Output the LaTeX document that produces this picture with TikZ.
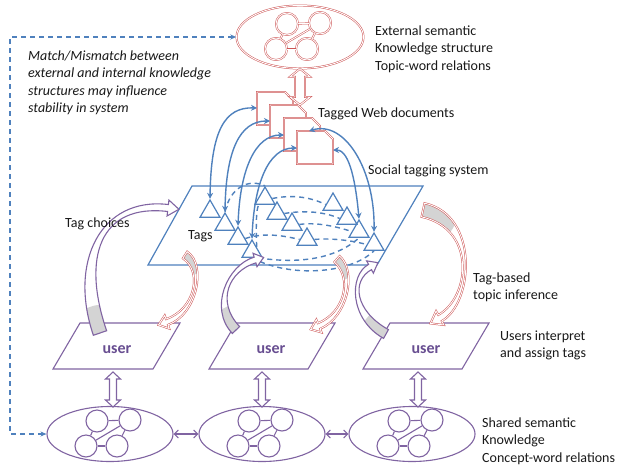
\documentclass[tikz,border=0pt]{standalone}
\usepackage{fontspec}
\setmainfont{Carlito}
\usetikzlibrary{calc,arrows.meta,shapes.geometric}
\definecolor{oblue}{RGB}{79,129,189}
\definecolor{ored}{RGB}{205,85,85}
\definecolor{opurple}{RGB}{128,100,162}
\definecolor{ouser}{RGB}{104,78,145}
\definecolor{ogrey}{RGB}{212,212,212}
\definecolor{otext}{RGB}{25,25,25}

\tikzset{
  redline/.style={draw=ored, double=white, double distance=0.9pt, line width=0.5pt},
  purpline/.style={draw=opurple, line width=1.1pt},
  bluebox/.style={draw=oblue, line width=1.2pt},
  tagtri/.style={regular polygon, regular polygon sides=3, draw=oblue, line width=1.2pt, minimum size=23pt, inner sep=0pt},
  bluearc/.style={draw=oblue, line width=1.4pt, arrows={Stealth[length=6pt,width=6pt]-Stealth[length=6pt,width=6pt]}},
  tagdash/.style={draw=oblue, line width=1.4pt, dash pattern=on 5pt off 4pt},
  linkdash/.style={draw=oblue, line width=1.3pt, dash pattern=on 5pt off 4pt, arrows={Stealth[length=6pt,width=5pt]-Stealth[length=6pt,width=5pt]}},
  gnode/.style={circle, minimum size=22pt, inner sep=0pt, fill=white},
  txt/.style={anchor=north west, inner sep=0pt, align=left, text=otext, font=\fontsize{14}{17.5}\selectfont},
  usertxt/.style={text=ouser, font=\fontsize{16}{18}\selectfont\bfseries, inner sep=0pt},
  pics/kgraph/.style={code={
    \node[gnode,#1] (-tl) at (-13,-13) {};
    \node[gnode,#1] (-tr) at (20,-14) {};
    \node[gnode,#1] (-bl) at (-24,12) {};
    \node[gnode,#1] (-br) at (7,12) {};
    \draw[#1] (-tl) -- (-tr);
    \draw[#1] (-bl) -- (-br);
    \draw[#1] (-tl) -- (-bl);
    \draw[#1] (-tr) -- (-br);
    \draw[#1] (-bl) -- (-tr);
  }},
}

% vertical hollow double-headed arrow: style, top coord, bottom coord, shaft half, head half, head length
\newcommand\vdarrow[6]{%
  \draw[#1, fill=white, line join=miter] (#2) -- ($(#2)+(#5,#6)$) -- ($(#2)+(#4,#6)$) -- ($(#3)+(#4,-#6)$) -- ($(#3)+(#5,-#6)$) -- (#3) -- ($(#3)+(-#5,-#6)$) -- ($(#3)+(-#4,-#6)$) -- ($(#2)+(-#4,#6)$) -- ($(#2)+(-#5,#6)$) -- cycle;}

% curved block arrow: style, P0, P1, P2, P3, tail half width, end half width, head half width, head length
\def\greyr{28pt}
\newcommand\blockarrow[9]{%
  \coordinate (ba0) at #2; \coordinate (ba1) at #3;
  \coordinate (ba2) at #4; \coordinate (ba3) at #5;
  \coordinate (bl0) at ($(ba0)!#6!90:(ba1)$);
  \coordinate (br0) at ($(ba0)!#6!-90:(ba1)$);
  \coordinate (bl3) at ($(ba3)!#7!-90:(ba2)$);
  \coordinate (br3) at ($(ba3)!#7!90:(ba2)$);
  \coordinate (bl1) at ($(bl0)+(ba1)-(ba0)$);
  \coordinate (br1) at ($(br0)+(ba1)-(ba0)$);
  \coordinate (bl2) at ($(bl3)+(ba2)-(ba3)$);
  \coordinate (br2) at ($(br3)+(ba2)-(ba3)$);
  \coordinate (bhl) at ($(ba3)!#8!-90:(ba2)$);
  \coordinate (bhr) at ($(ba3)!#8!90:(ba2)$);
  \coordinate (btip) at ($(ba3)!#9!180:(ba2)$);
  \fill[white] (bl0) .. controls (bl1) and (bl2) .. (bl3) -- (bhl) -- (btip) -- (bhr) -- (br3) .. controls (br2) and (br1) .. (br0) -- cycle;
  \begin{scope}
    \clip (ba0) circle[radius=\greyr];
    \fill[ogrey] (bl0) .. controls (bl1) and (bl2) .. (bl3) -- (br3) .. controls (br2) and (br1) .. (br0) -- cycle;
  \end{scope}
  \draw[#1, line join=miter] (bl0) .. controls (bl1) and (bl2) .. (bl3) -- (bhl) -- (btip) -- (bhr) -- (br3) .. controls (br2) and (br1) .. (br0) -- cycle;
}

% document page with cut corner
\newcommand\docpage[3]{%
  \draw[redline, fill=white] (#2,#3) -- ++(28,0) -- ++(8,8) -- ++(0,25) -- ++(-36,0) -- cycle;
  \coordinate (#1) at (#2,#3);}

\begin{document}
\begin{tikzpicture}[x=1pt,y=-1pt]
\useasboundingbox (0,0) rectangle (620,466);
\fill[white] (0,0) rectangle (620,466);

% ---------- social tagging plane ----------
\draw[bluebox] (192,186) -- (423,186) -- (377,265) -- (148,265) -- cycle;

% tags
\node[tagtri] (tA) at (210,211.5) {};
\node[tagtri] (tB) at (225,224.5) {};
\node[tagtri] (tC) at (238,238.5) {};
\node[tagtri] (tD) at (252,251.5) {};
\node[tagtri] (tE) at (265,198.5) {};
\node[tagtri] (tF) at (277,213.5) {};
\node[tagtri] (tG) at (292,224.5) {};
\node[tagtri] (tH) at (307,239.5) {};
\node[tagtri] (tI) at (333,204.5) {};
\node[tagtri] (tJ) at (347,218.5) {};
\node[tagtri] (tK) at (359,231.5) {};
\node[tagtri] (tL) at (374,244.5) {};

% dashed tag relations
\draw[tagdash] (tE.east) .. controls (295,194) and (312,198) .. (tI.west);
\draw[tagdash] (tF.east) .. controls (305,210) and (325,212) .. (tJ.west);
\draw[tagdash] (tG.east) .. controls (315,222) and (335,226) .. (tK.west);
\draw[tagdash] (tH.east) .. controls (330,238) and (350,240) .. (tL.west);
\draw[tagdash] (tC.east) .. controls (265,232) and (285,236) .. (tH.west);
\draw[tagdash] (tD.south east) .. controls (285,262) and (330,264) .. (tK.south);
\draw[tagdash] (tD.south) .. controls (290,278) and (350,274) .. (tL.south);
\draw[tagdash] (tB.north) .. controls (230,188) and (248,178) .. (tE.north);
\draw[tagdash] (tD.north east) .. controls (256,225) and (256,210) .. (tE.south west);

% ---------- documents ----------
\docpage{pg1}{257}{92}
\docpage{pg2}{270}{105}
\docpage{pg3}{284}{118}
\docpage{pg4}{297}{131}
\coordinate (p1w) at (257,108);
\coordinate (p2w) at (270,121);
\coordinate (p3w) at (284,135);
\coordinate (p4w) at (297,148);
\coordinate (p4n) at (309,131);
\coordinate (p4e) at (333,150);

% arcs between tags and documents
\draw[bluearc] (tA.north) .. controls (211,130) and (225,107) .. (p1w);
\draw[bluearc] (tB.north) .. controls (226,150) and (240,121) .. (p2w);
\draw[bluearc] (tC.north) .. controls (240,170) and (255,135) .. (p3w);
\draw[bluearc] (tD.north) .. controls (254,185) and (268,148) .. (p4w);
\draw[bluearc] (p4n) .. controls (345,120) and (375,170) .. (tL.north);
\draw[bluearc] (p4e) .. controls (350,150) and (356,185) .. (tK.north);

% ---------- external knowledge ----------
\node[ellipse, redline, fill=white, minimum width=127pt, minimum height=63pt, inner sep=0pt] (ext) at (300,37) {};
\pic (g0) at (300,37) {kgraph=redline};
\coordinate (dtip) at (300,105);
\vdarrow{redline}{ext.south}{dtip}{5}{10}{8}

% ---------- users ----------
\draw[purpline] (80,323) -- (180,323) -- (153,369) -- (53,369) -- cycle;
\draw[purpline] (236,323) -- (335,323) -- (308,369) -- (209,369) -- cycle;
\draw[purpline] (390,323) -- (489,323) -- (462,369) -- (363,369) -- cycle;
\node[usertxt] (user1) at (117,350) {user};
\node[usertxt] (user2) at (271,350) {user};
\node[usertxt] (user3) at (426,350) {user};

% ---------- shared knowledge ----------
\node[ellipse, purpline, minimum width=126pt, minimum height=55pt, inner sep=0pt] (e1) at (110,434) {};
\node[ellipse, purpline, minimum width=126pt, minimum height=55pt, inner sep=0pt] (e2) at (262,434) {};
\node[ellipse, purpline, minimum width=126pt, minimum height=55pt, inner sep=0pt] (e3) at (412,434) {};
\pic (g1) at (110,434) {kgraph=purpline};
\pic (g2) at (262,434) {kgraph=purpline};
\pic (g3) at (412,434) {kgraph=purpline};
\draw[purpline, arrows={Straight Barb[length=4pt,width=8pt]-Straight Barb[length=4pt,width=8pt]}] (e1.east) -- (e2.west);
\draw[purpline, arrows={Straight Barb[length=4pt,width=8pt]-Straight Barb[length=4pt,width=8pt]}] (e2.east) -- (e3.west);

\coordinate (a1t) at (113,372); \coordinate (a1b) at (113,407);
\coordinate (a2t) at (262,372); \coordinate (a2b) at (262,407);
\coordinate (a3t) at (418,372); \coordinate (a3b) at (418,407);
\vdarrow{purpline}{a1t}{a1b}{3.5}{7.5}{7}
\vdarrow{purpline}{a2t}{a2b}{3.5}{7.5}{7}
\vdarrow{purpline}{a3t}{a3b}{3.5}{7.5}{7}

% ---------- curved block arrows ----------
\def\greyr{28pt}
\blockarrow{purpline}{(100,333)}{(75,260)}{(100,200)}{(168,208)}{7pt}{3.5pt}{8pt}{11pt}
\def\greyr{22pt}
\blockarrow{redline}{(185,255)}{(205,268)}{(196,312)}{(167,322)}{4pt}{3pt}{7pt}{9pt}
\def\greyr{25pt}
\blockarrow{purpline}{(236,330)}{(212,305)}{(228,268)}{(255,260)}{5pt}{3pt}{7pt}{9pt}
\def\greyr{22pt}
\blockarrow{redline}{(337,259)}{(355,275)}{(346,315)}{(319,326)}{4pt}{3pt}{7pt}{9pt}
\def\greyr{25pt}
\blockarrow{purpline}{(386,334)}{(352,315)}{(350,278)}{(370,267)}{5pt}{3pt}{7pt}{9pt}
\def\greyr{35pt}
\blockarrow{redline}{(423,210)}{(478,222)}{(472,300)}{(440,318)}{7pt}{3.5pt}{8pt}{11pt}

% ---------- match/mismatch link ----------
\coordinate (lk1) at (10,37);
\coordinate (lk2) at (10,434);
\draw[linkdash] (ext.west) -- (lk1) -- (lk2) -- (e1.west);

% ---------- texts ----------
\node[txt] (t-ext) at (375,23) {\strut External semantic\\Knowledge structure\\Topic-word relations};
\node[txt] (t-doc) at (318,105) {\strut Tagged Web documents};
\node[txt] (t-sts) at (368,162) {\strut Social tagging system};
\node[txt] (t-tags) at (188,227) {\strut Tags};
\node[txt] (t-choice) at (65,215) {\strut Tag choices};
\node[txt] (t-infer) at (473,270) {\strut Tag-based\\topic inference};
\node[txt] (t-users) at (500,328) {\strut Users interpret\\and assign tags};
\node[txt] (t-shared) at (482,415) {\strut Shared semantic\\Knowledge\\Concept-word relations};
\node[txt, font=\fontsize{14}{17.5}\selectfont\itshape] (t-match) at (28,48) {\strut Match/Mismatch between\\external and internal knowledge\\structures may influence\\stability in system};
\end{tikzpicture}
\end{document}
